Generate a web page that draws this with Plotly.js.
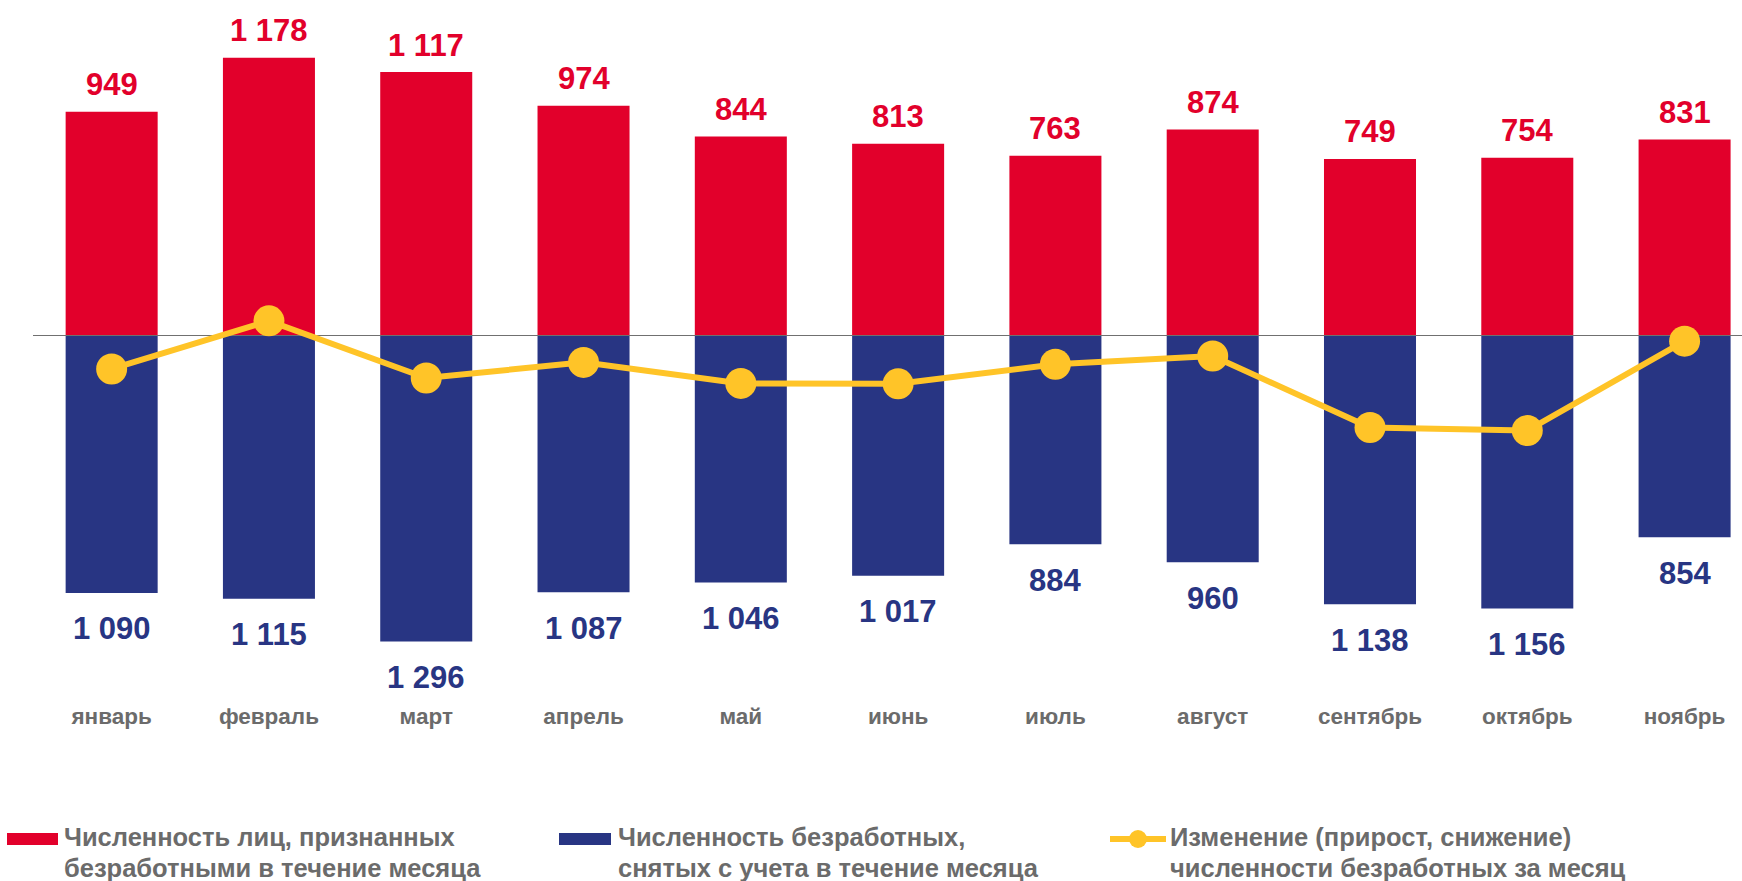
<!DOCTYPE html>
<html>
<head>
<meta charset="utf-8">
<script src="https://cdn.plot.ly/plotly-3.0.1.min.js"></script>
<style>
html,body{margin:0;padding:0;background:#fff;}
#chart{width:1742px;height:881px;}
</style>
</head>
<body>
<div id="chart"></div>
<script>
// ---- data ----
const months = ['январь','февраль','март','апрель','май','июнь','июль','август','сентябрь','октябрь','ноябрь'];
const recognized = [949,1178,1117,974,844,813,763,874,749,754,831];
const removed = [1090,1115,1296,1087,1046,1017,884,960,1138,1156,854];
const change = [-141,63,-179,-113,-202,-204,-121,-86,-389,-402,-23];
const seriesNames = [
  ['Численность лиц, признанных', 'безработными в течение месяца'],
  ['Численность безработных,', 'снятых с учета в течение месяца'],
  ['Изменение (прирост, снижение)', 'численности безработных за месяц']
];

// ---- styles ----
const RED = '#E2002B', BLUE = '#283583', YEL = '#FFC428', GRAY = '#6B6B6B';
const FONT = '"Liberation Sans", Arial, sans-serif';
const W = 1742, H = 881, ML = 33, MR = 0, MT = 0, MB = 181;
const PW = W - ML - MR, PH = H - MT - MB;
const YR = [-1543.6, 1422.5];
const XR = [-0.5, 10.365];
const px2x = p => (p - ML) / PW;
const px2y = p => (H - MB - p) / PH;
const fmt = v => String(v).replace(/\B(?=(\d{3})+(?!\d))/g, ' ');

const traces = [
  {type:'bar', x: months, y: recognized, name: seriesNames[0].join(' '), marker:{color:RED}, width:0.585,
   xaxis:'x', yaxis:'y', hoverinfo:'skip'},
  {type:'bar', x: months, y: removed.map(v => -v), name: seriesNames[1].join(' '), marker:{color:BLUE}, width:0.585,
   xaxis:'x', yaxis:'y', hoverinfo:'skip'},
  {type:'scatter', mode:'lines+markers', x: months, y: change, name: seriesNames[2].join(' '),
   line:{color:YEL, width:6}, marker:{color:YEL, size:31}, xaxis:'x2', yaxis:'y2', cliponaxis:false, hoverinfo:'skip'}
];

const annotations = [];
months.forEach((m, i) => {
  annotations.push({x: m, y: recognized[i], xref:'x', yref:'y', text: fmt(recognized[i]), showarrow:false,
    yanchor:'middle', yshift: 27, font:{family:FONT, size:31, color:RED, weight:'bold'}});
  annotations.push({x: m, y: -removed[i], xref:'x', yref:'y', text: fmt(removed[i]), showarrow:false,
    yanchor:'middle', yshift: -36, font:{family:FONT, size:31, color:BLUE, weight:'bold'}});
});
// legend (custom)
const legX = [63, 617, 1169];
const legLineY = [837, 868];
legX.forEach((lx, i) => {
  seriesNames[i].forEach((t, k) => {
    annotations.push({xref:'paper', yref:'paper', x: px2x(lx - 1), y: px2y(legLineY[k]), xanchor:'left', yanchor:'middle',
      align:'left', text: t, showarrow:false, font:{family:FONT, size:25.5, color:GRAY, weight:'bold'}});
  });
});

const shapes = [
  {type:'rect', xref:'paper', yref:'paper', x0: px2x(7), x1: px2x(58), y0: px2y(833), y1: px2y(845),
   fillcolor: RED, line:{width:0}},
  {type:'rect', xref:'paper', yref:'paper', x0: px2x(559), x1: px2x(611), y0: px2y(833), y1: px2y(845),
   fillcolor: BLUE, line:{width:0}},
  {type:'line', xref:'paper', yref:'paper', x0: px2x(1110), x1: px2x(1166), y0: px2y(839), y1: px2y(839),
   line:{color:YEL, width:6}},
  {type:'circle', xref:'paper', yref:'paper', xsizemode:'pixel', ysizemode:'pixel',
   xanchor: px2x(1138), yanchor: px2y(839), x0:-9, x1:9, y0:-9, y1:9, fillcolor:YEL, line:{width:0}}
];

const layout = {
  width: W, height: H,
  margin: {l: ML, r: MR, t: MT, b: MB, pad: 0},
  paper_bgcolor: '#ffffff', plot_bgcolor: 'rgba(0,0,0,0)',
  showlegend: false,
  barmode: 'relative', bargap: 0.4,
  xaxis: {type:'category', range: XR, domain:[0,1], anchor:'y', showgrid:false, zeroline:false, showline:false,
    ticks:'', tickfont:{family:FONT, size:22.5, color:GRAY, weight:'bold'}, fixedrange:true},
  yaxis: {range: YR, domain:[0,1], anchor:'x', showgrid:false, zeroline:false, showline:false,
    showticklabels:false, ticks:'', fixedrange:true},
  xaxis2: {type:'category', range: XR, domain:[0,1], anchor:'y2', showgrid:false, zeroline:false, showline:false,
    showticklabels:false, ticks:'', fixedrange:true},
  yaxis2: {range: YR, domain:[0,1], anchor:'x2', showgrid:false, zeroline:true, zerolinecolor:'#707070',
    zerolinewidth:1.5, showline:false, showticklabels:false, ticks:'', fixedrange:true},
  annotations: annotations,
  shapes: shapes,
  font: {family: FONT}
};

Plotly.newPlot('chart', traces, layout, {staticPlot:true, displayModeBar:false});
</script>
</body>
</html>
